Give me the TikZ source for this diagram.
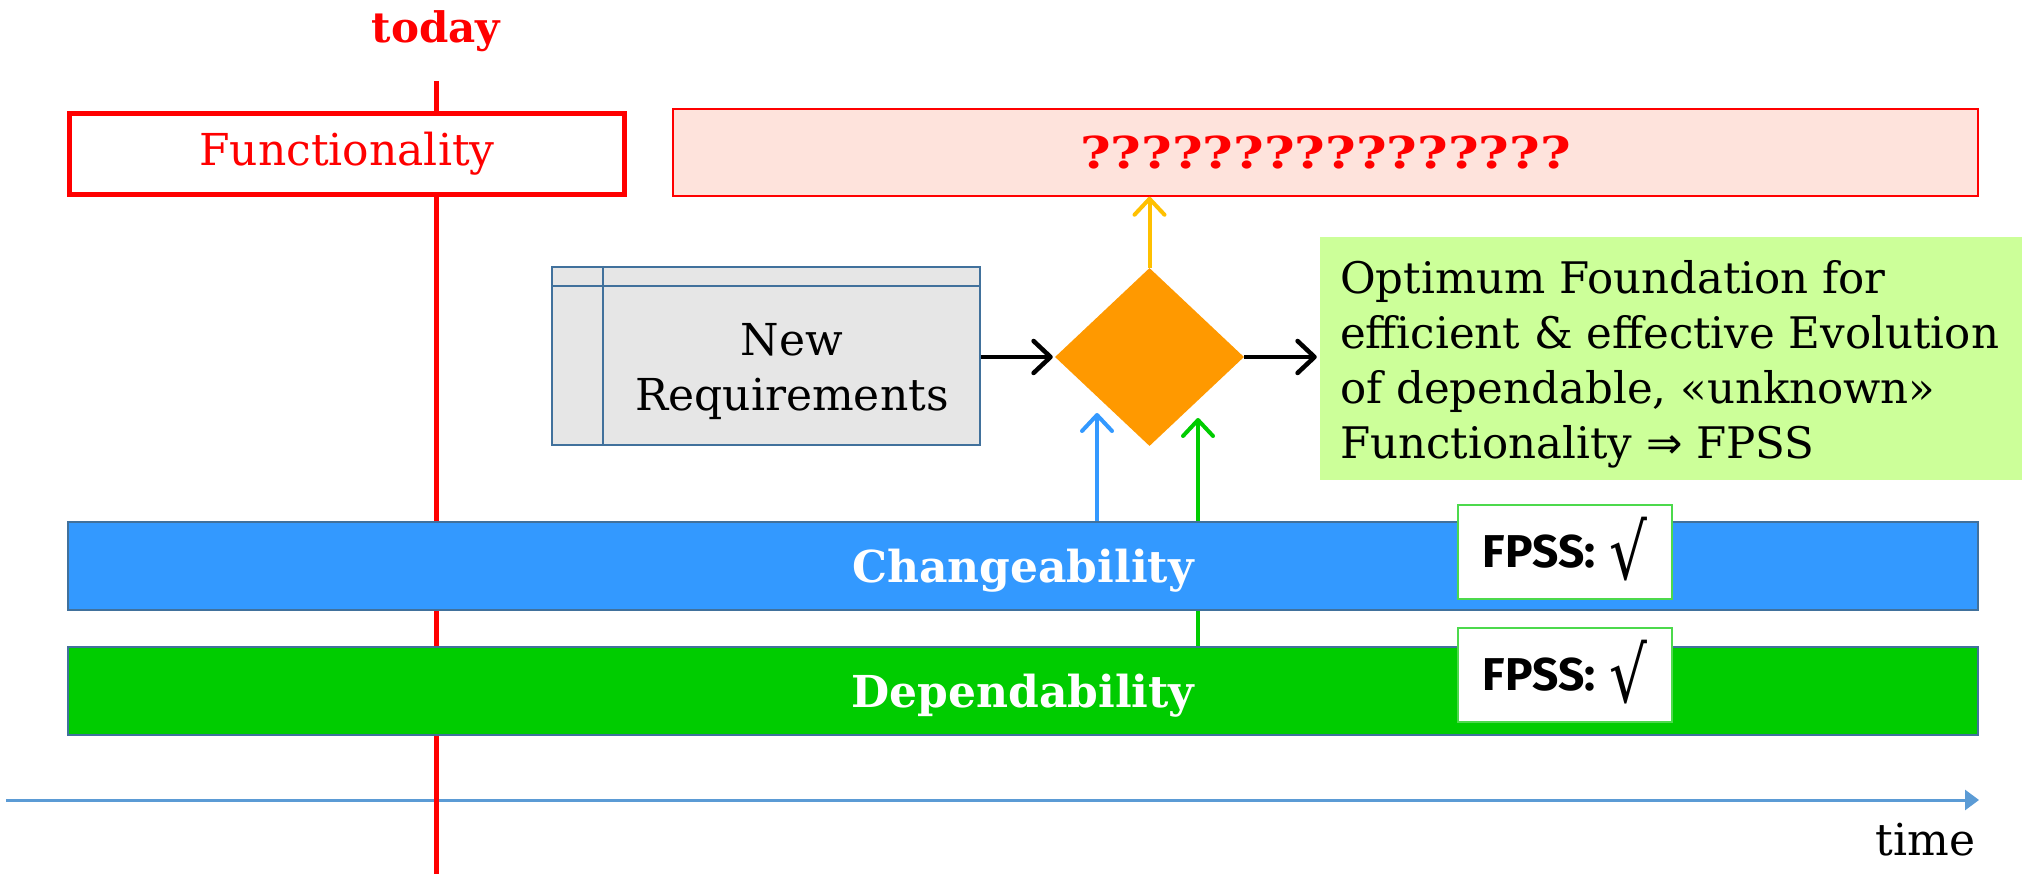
\documentclass[tikz,border=0pt]{standalone}
\usepackage{fontspec}
\usepackage{graphicx}
\setmainfont{DejaVu Serif}
\newfontfamily\fpssfont{Fira Sans}
\newfontfamily\symbolfont{DejaVu Sans}
\usetikzlibrary{arrows.meta,shapes.geometric}

\definecolor{todayred}{HTML}{FF0000}
\definecolor{pinkfill}{HTML}{FEE3DC}
\definecolor{reqfill}{HTML}{E6E6E6}
\definecolor{steel}{HTML}{41719C}
\definecolor{decision}{HTML}{FF9900}
\definecolor{amber}{HTML}{FFC000}
\definecolor{limefill}{HTML}{CCFF99}
\definecolor{barblue}{HTML}{3399FF}
\definecolor{bargreen}{HTML}{00CC00}
\definecolor{axisblue}{HTML}{5B9BD5}
\definecolor{okgreen}{HTML}{4CD94C}

\newcommand\bigtext{\fontsize{44}{57}\selectfont}
\newcommand\checkmarkroot{\smash{\raisebox{-12pt}{\scalebox{0.96}[1.24]{\symbolfont\mdseries\fontsize{62}{62}\selectfont √}}}}

\begin{document}
\begin{tikzpicture}[x=1pt,y=-1pt,
  funcbox/.style={draw=todayred, line width=5, fill=white, minimum width=555,
    minimum height=81, inner sep=0, text=todayred, font=\bigtext},
  qbox/.style={draw=todayred, line width=1.5, fill=pinkfill, minimum width=1305,
    minimum height=87, inner sep=0, text=todayred, font=\bigtext\bfseries},
  reqbox/.style={draw=steel, line width=2, fill=reqfill, minimum width=428,
    minimum height=178, inner sep=0},
  bar/.style={draw=steel, line width=2, minimum width=1910, minimum height=88,
    inner sep=0, text=white, font=\bigtext\bfseries, text height=43pt, text depth=10pt},
  fpss/.style={draw=okgreen, line width=2, fill=white, minimum width=214,
    minimum height=94, inner sep=0, font=\fpssfont\fontsize{46}{50}\selectfont\bfseries},
  flowarrow/.style={draw=black, line width=4.5,
    -{Straight Barb[length=17pt,width=32pt,line cap=round,line join=round]}},
  feedarrow/.style={line width=4,
    -{Straight Barb[length=16pt,width=30pt,line cap=round,line join=round]}},
  timeaxis/.style={draw=axisblue, line width=3, -{Triangle[length=14pt,width=20pt]}}
]
\useasboundingbox (0,0) rectangle (2022,874);

% time axis
\coordinate (tstart) at (6,800);
\coordinate (tend) at (1979,800);
\draw[timeaxis] (tstart) -- (tend);
\node[anchor=east, font=\bigtext] (time) at (1979,840) {time};

% the "today" marker
\node[font=\fontsize{42}{50}\selectfont\bfseries, text=todayred] (today) at (436,31) {today};
\coordinate (ltop) at (436,81);
\coordinate (lbot) at (436,874);
\draw[todayred, line width=5] (ltop) -- (lbot);

% functionality now and later
\node[funcbox] (func) at (347,154) {Functionality};
\node[qbox] (qs) at (1325.5,152.5) {\scalebox{1.19}[1]{????????????????}};

% new requirements (internal storage symbol)
\node[reqbox] (req) at (766,356) {};
\draw[steel, line width=2] ([yshift=-20pt]req.north west) -- ([yshift=-20pt]req.north east);
\draw[steel, line width=2] ([xshift=52pt]req.north west) -- ([xshift=52pt]req.south west);
\node[font=\fontsize{44}{55}\selectfont, align=center] (reqtext) at (792,372) {New\\Requirements};

% decision
\node[diamond, fill=decision, draw=none, minimum width=189, minimum height=178,
  inner sep=0] (dia) at (1149.5,357) {};

% result
\node[fill=limefill, minimum width=702, minimum height=243, inner sep=0] (opt) at (1671,358.5) {};
\node[anchor=west, align=left, font=\fontsize{43.5}{55}\selectfont, inner sep=0] (opttext) at (1340,364)
  {Optimum Foundation for\\efficient \& effective Evolution\\of dependable, «unknown»\\Functionality {\symbolfont ⇒} FPSS};

% contributions into the decision
\coordinate (bluetip) at (1097,413);
\coordinate (greentip) at (1198,418);

\node[bar, fill=bargreen] (dbar) at (1023,690.5) {Dependability};
\draw[feedarrow, bargreen] (greentip |- dbar.north) -- (greentip);
\node[bar, fill=barblue] (cbar) at (1023,566) {Changeability};
\draw[feedarrow, barblue] (bluetip |- cbar.north) -- (bluetip);

\node[fpss] (f1) at (1565,552) {FPSS:\hspace{0.3em}\checkmarkroot};
\node[fpss] (f2) at (1565,674.5) {FPSS:\hspace{0.3em}\checkmarkroot};

% flow
\draw[flowarrow, shorten >=2pt] (req.east |- dia.west) -- (dia.west);
\draw[flowarrow, shorten >=3pt] (dia.east) -- (opt.west |- dia.east);
\draw[feedarrow, amber] (dia.north) -- (dia.north |- qs.south);
\end{tikzpicture}
\end{document}
